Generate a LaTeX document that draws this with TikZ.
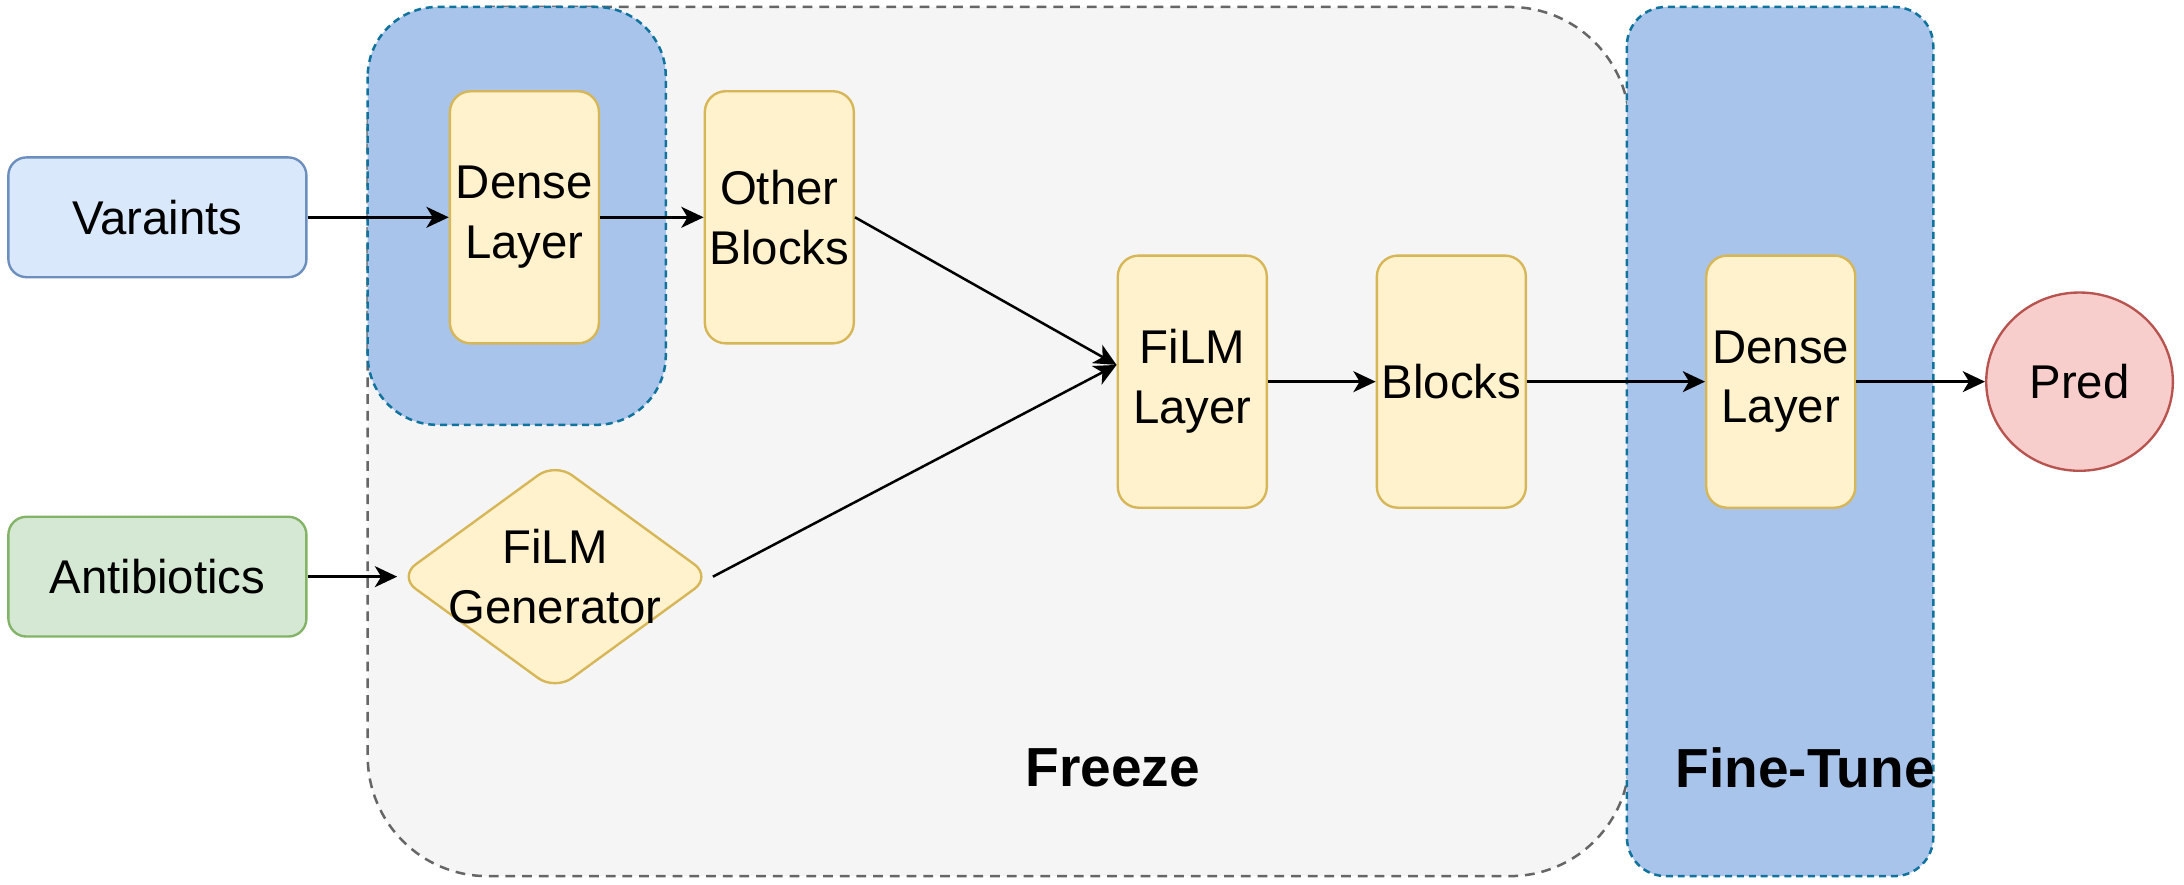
\documentclass[tikz,border=0pt]{standalone}
\usepackage{fontspec}
\setmainfont{Liberation Sans}
\usetikzlibrary{shapes.geometric}
\usetikzlibrary{arrows.meta}

\definecolor{varfill}{HTML}{DAE8FC}
\definecolor{varline}{HTML}{6C8EBF}
\definecolor{abfill}{HTML}{D5E8D4}
\definecolor{abline}{HTML}{82B366}
\definecolor{yfill}{HTML}{FFF2CC}
\definecolor{yline}{HTML}{D6B656}
\definecolor{predfill}{HTML}{F8CECC}
\definecolor{predline}{HTML}{B85450}
\definecolor{regfill}{HTML}{A9C4EB}
\definecolor{regline}{HTML}{10739E}
\definecolor{frzfill}{HTML}{F5F5F5}
\definecolor{frzline}{HTML}{666666}

\newcommand{\bodyfont}{\fontsize{34}{43}\selectfont}
\newcommand{\tagfont}{\fontsize{39.5}{47}\selectfont\bfseries}

\begin{document}
\begin{tikzpicture}[x=1pt,y=-1pt,
        inbox/.style={rounded corners=13pt, line width=1.7pt, minimum width=214pt,
            minimum height=86pt, inner sep=0pt, font=\bodyfont},
        layerbox/.style={draw=yline, fill=yfill, line width=1.7pt, rounded corners=15pt,
            minimum width=107pt, minimum height=181pt, inner sep=0pt, align=center,
            font=\bodyfont},
        region/.style={fill=regfill, draw=regline, line width=1.8pt,
            dash pattern=on 5pt off 3.5pt},
        flow/.style={-{Stealth[length=16pt,width=15pt,inset=4.5pt]}, line width=1.8pt}]
        \useasboundingbox (0,0) rectangle (1568,635.3);

        % regions
        \draw[fill=frzfill, draw=frzline, line width=1.8pt, dash pattern=on 7pt off 5pt,
            rounded corners=86pt] (264,5) rectangle (1170,629);
        \draw[region, rounded corners=50pt] (264,5) rectangle (478,305);
        \draw[region, rounded corners=28pt] (1168,5) rectangle (1388,629);

        % inputs
        \node[inbox, draw=varline, fill=varfill] (var) at (113,156) {Varaints};
        \node[inbox, draw=abline, fill=abfill] (ab) at (113,414) {Antibiotics};

        % layers
        \node[layerbox] (dense1) at (376.5,156) {Dense\\Layer};
        \node[layerbox] (other) at (559.5,156) {Other\\Blocks};
        \node[diamond, draw=yline, fill=yfill, line width=1.7pt, minimum width=225pt,
            minimum height=164pt, inner sep=0pt, rounded corners=15pt,
            label={[align=center, font=\bodyfont]center:FiLM\\Generator}] (gen) at (398.5,414) {};
        \node[layerbox] (film) at (856,274) {FiLM\\Layer};
        \node[layerbox] (blk) at (1042,274) {Blocks};
        \node[layerbox] (dense2) at (1278.5,274) {Dense\\Layer};
        \node[ellipse, draw=predline, fill=predfill, line width=1.7pt, minimum width=134pt,
            minimum height=128pt, inner sep=0pt, font=\bodyfont] (pred) at (1493,274) {Pred};

        % labels
        \node[font=\tagfont] (frz) at (799,551) {Freeze};
        \node[font=\tagfont] (tune) at (1296,551) {Fine-Tune};

        \draw[flow] (var.east) -- (dense1.west);
        \draw[flow] (dense1.east) -- (other.west);
        \draw[flow] (other.east) -- ([yshift=12pt]film.west);
        \draw[flow] (ab.east) -- (gen.west);
        \draw[flow] (gen.east) -- ([yshift=12pt]film.west);
        \draw[flow] (film.east) -- (blk.west);
        \draw[flow] (blk.east) -- (dense2.west);
        \draw[flow] (dense2.east) -- (pred.west);
    \end{tikzpicture}
\end{document}
